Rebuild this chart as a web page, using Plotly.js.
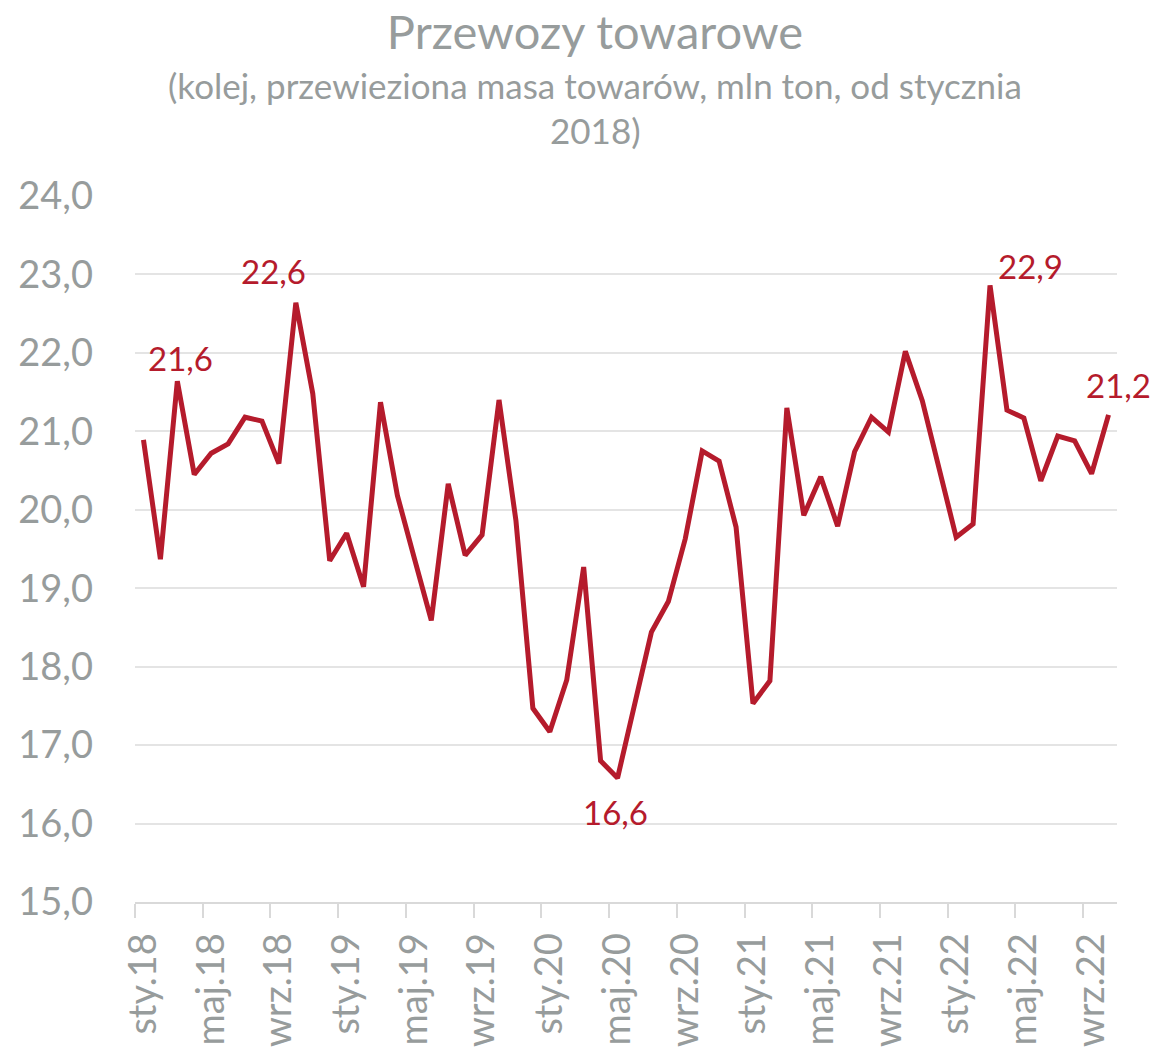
<!DOCTYPE html>
<html>
<head>
<meta charset="utf-8">
<script src="https://cdn.plot.ly/plotly-3.0.1.min.js"></script>
<style>html,body{margin:0;padding:0;background:#fff;}#chart{width:1154px;height:1049px;}</style>
</head>
<body>
<div id="chart"></div>
<script>
// Polish month abbreviations and years covered (Jan 2018 - Oct 2022)
const monthNames = ["sty","lut","mar","kwi","maj","cze","lip","sie","wrz","paź","lis","gru"];
const years = ["18","19","20","21","22"];

// Rail freight, mass transported, million tonnes (monthly)
const values = [
  20.89, 19.37, 21.64, 20.45, 20.72, 20.84, 21.18, 21.13, 20.59, 22.64, 21.48, 19.35,
  19.70, 19.02, 21.37, 20.18, 19.38, 18.59, 20.33, 19.42, 19.68, 21.40, 19.86, 17.47,
  17.17, 17.83, 19.27, 16.80, 16.58, 17.49, 18.44, 18.83, 19.63, 20.75, 20.62, 19.78,
  17.53, 17.82, 21.30, 19.93, 20.42, 19.79, 20.74, 21.18, 20.99, 22.02, 21.39, 20.52,
  19.65, 19.82, 22.86, 21.27, 21.17, 20.37, 20.94, 20.88, 20.46, 21.21
];

const categories = [];
years.forEach(y => monthNames.forEach(m => categories.push(m + "." + y)));
categories.length = values.length;

// Labelled points: index and label offset (px)
const labelIdx = [2, 9, 28, 50, 57];
const labelDx = [3, -22, -2, 40, 10];
const labelDy = [23, 32, -34, 19, 30];

const red = "#B51B2C";
const grey = "#979C9C";
const font = "Lato, 'Open Sans', sans-serif";

const trace = {
  type: "scatter",
  mode: "lines",
  x: categories,
  y: values,
  line: {color: red, width: 5},
  hoverinfo: "x+y"
};

const annotations = labelIdx.map((i, k) => ({
  x: categories[i],
  y: values[i],
  xref: "x", yref: "y",
  text: values[i].toFixed(1).replace(".", ","),
  showarrow: false,
  xanchor: "center", yanchor: "middle",
  xshift: labelDx[k], yshift: labelDy[k],
  font: {family: font, size: 33, color: red}
}));

// paper y: plot area spans 196..902 px (706 px)
annotations.push({
  xref: "paper", yref: "paper", x: (595 - 135) / 982, y: (902 - 85) / 706,
  xanchor: "center", yanchor: "middle", showarrow: false,
  text: "(kolej, przewieziona masa towarów, mln ton, od stycznia",
  font: {family: font, size: 35, color: grey}
});
annotations.push({
  xref: "paper", yref: "paper", x: (595 - 135) / 982, y: (902 - 130) / 706,
  xanchor: "center", yanchor: "middle", showarrow: false,
  text: "2018)",
  font: {family: font, size: 35, color: grey}
});

const layout = {
  width: 1154, height: 1049,
  paper_bgcolor: "#fff", plot_bgcolor: "#fff",
  separators: ",.",
  margin: {l: 135, r: 37, t: 196, b: 147},
  showlegend: false,
  title: {
    text: "Przewozy towarowe",
    x: 595 / 1154, xref: "container", xanchor: "center",
    y: 1 - 33 / 1049, yref: "container", yanchor: "middle",
    font: {family: font, size: 47, color: grey}
  },
  xaxis: {
    type: "category",
    range: [-0.5, values.length - 0.5],
    tickmode: "linear", tick0: 0, dtick: 4,
    tickson: "boundaries",
    ticks: "outside", ticklen: 14, tickwidth: 2, tickcolor: "#d9d9d9",
    tickangle: -90,
    ticklabelstandoff: 14,
    showline: true, linecolor: "#d9d9d9", linewidth: 2,
    showgrid: false, zeroline: false,
    tickfont: {family: font, size: 38, color: grey}
  },
  yaxis: {
    range: [15, 24],
    tickmode: "linear", tick0: 15, dtick: 1,
    tickformat: ".1f",
    showgrid: true, gridcolor: "#e4e4e4", gridwidth: 2,
    zeroline: false, showline: false,
    ticks: "", ticklabelstandoff: 41,
    tickfont: {family: font, size: 38, color: grey}
  },
  annotations: annotations
};

Plotly.newPlot("chart", [trace], layout, {displayModeBar: false, staticPlot: true});
</script>
</body>
</html>
